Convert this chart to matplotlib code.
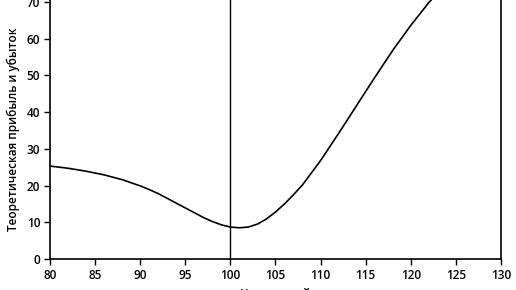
import matplotlib.pyplot as plt

# stock price vs theoretical profit/loss
price = [80, 82, 84, 86, 88, 90, 91, 92, 93, 94, 95, 96, 97, 98, 99, 100,
         101, 102, 103, 104, 105, 106, 107, 108, 110, 112, 114, 116, 118,
         120, 122, 123]
profit = [25.3, 24.7, 23.9, 22.9, 21.6, 19.9, 18.9, 17.8, 16.5, 15.2, 13.9,
          12.6, 11.3, 10.2, 9.3, 8.7, 8.5, 8.7, 9.5, 10.9, 12.8, 15.0, 17.5,
          20.2, 26.8, 34.2, 41.8, 49.4, 56.8, 63.6, 69.8, 72.5]
xticks = [80, 85, 90, 95, 100, 105, 110, 115, 120, 125, 130]
yticks = [0, 10, 20, 30, 40, 50, 60, 70]

plt.rcParams['font.family'] = ['Open Sans', 'DejaVu Sans']

fig = plt.figure(figsize=(5.16, 2.9), dpi=100)
ax = fig.add_axes([50 / 516, 31 / 290, 451 / 516, 259 / 290])

ax.plot(price, profit, color='black', lw=1.2, solid_joinstyle='round')
ax.axvline(100, color='black', lw=1.0)

ax.set_xlim(80, 130)
ax.set_ylim(0, 70.5)
ax.set_xticks(xticks)
ax.set_yticks(yticks)
ax.tick_params(direction='out', length=4, width=1, labelsize=8.5, pad=3)
for lbl in ax.get_xticklabels() + ax.get_yticklabels():
    lbl.set_fontweight('semibold')

ax.spines['top'].set_visible(False)
for s in ['left', 'bottom', 'right']:
    ax.spines[s].set_linewidth(1.2)

ax.set_ylabel('Теоретическая прибыль и убыток', fontsize=8.5,
              fontweight='semibold', labelpad=5)
ax.set_xlabel('Цена акций', fontsize=8.5, fontweight='semibold', labelpad=4)

fig.savefig('out.png', dpi=100)
